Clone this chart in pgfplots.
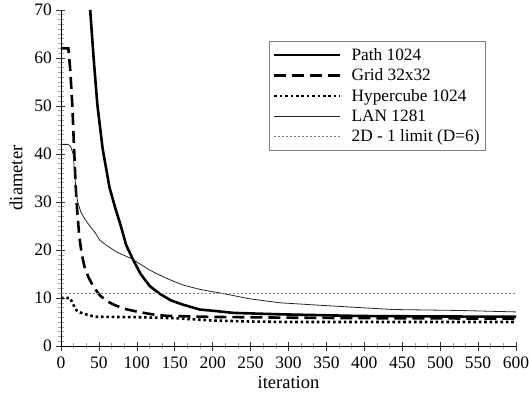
\documentclass[border=0pt]{standalone}
\usepackage{pgfplots}
\pgfplotsset{compat=1.18}
\usepackage{fontspec}
\setmainfont{Liberation Serif}
\begin{document}
\begin{tikzpicture}
\begin{axis}[
  scale only axis, width=455pt, height=336pt,
  xmin=0, xmax=600, ymin=0, ymax=70,
  axis x line*=bottom, axis y line*=left,
  axis line style={-, line width=0.6pt, black},
  xtick={0,50,...,600}, ytick={0,10,...,70},
  minor x tick num=2, minor y tick num=9,
  tick align=center,
  major tick length=9pt, minor tick length=6pt,
  major tick style={line width=0.6pt, black!80},
  minor tick style={line width=0.6pt, gray!70},
  /pgf/number format/assume math mode=true,
  ticklabel style={font=\fontsize{17.5}{20}\selectfont},
  xticklabel style={yshift=-3pt},
  yticklabel style={xshift=-1pt},
  label style={font=\fontsize{18.5}{21}\selectfont},
  xlabel={iteration}, ylabel={diameter},
  xlabel style={yshift=-1pt},
  ylabel style={yshift=5pt},
  legend cell align=left,
  legend image code/.code={\draw[#1] (0pt,0pt) -- (66pt,0pt);},
  legend style={at={(0.934,0.908)}, anchor=north east, draw=gray, line width=0.8pt,
    font=\fontsize{17.3}{20}\selectfont, inner xsep=4pt, inner ysep=5pt, row sep=3pt,
    column sep=8pt},
]
\addplot[black, line width=2.6pt] coordinates {
(38.5,70)(43,60)(48,50.2)(55,41)(64,33)(72,28.5)(78,25.5)(86,21)(95,18)(105,15)
(117,12.5)(130,10.9)(145,9.5)(161,8.6)(183,7.6)(203,7.3)(227,6.9)(289,6.6)(394,6.25)(500,6.15)(600,6.1)};
\addlegendentry{Path 1024}
\addplot[black, line width=2.6pt, dash pattern=on 12pt off 6pt] coordinates {
(0,62)(9.7,62)(12,58)(15,50)(17,42)(19.3,33.5)(21,29)(24,23)(27,19.5)(31,16.5)(36,14.4)
(43,12.3)(51,10.6)(60,9.4)(71,8.5)(85,7.7)(102,7.1)(120,6.6)(137,6.3)(170,6.15)(203,6.05)
(300,5.9)(400,5.8)(600,5.7)};
\addlegendentry{Grid 32x32}
\addplot[black, line width=2.6pt, dash pattern=on 2.6pt off 2.8pt] coordinates {
(0,10)(12,10)(15,9)(20,7.5)(25,7)(35,6.5)(45,6.1)(100,6)(150,5.8)(200,5.3)(250,5.1)(300,5.0)(600,5.0)};
\addlegendentry{Hypercube 1024}
\addplot[black!85, line width=0.8pt] coordinates {
(0,42)(9,42)(13,41.5)(16,40)(18,36)(20,32)(22,30)(26,28)(30,26.8)(38,25)(45,23.6)(51,22.1)
(58,21.2)(73,19.6)(93,18.2)(117,15.8)(139,14.1)(161,12.7)(183,11.8)(218,10.8)(250,9.8)
(289,9.0)(340,8.5)(394,8.0)(438,7.6)(526,7.4)(600,7.1)};
\addlegendentry{LAN 1281}
\addplot[gray, line width=0.8pt, dash pattern=on 2pt off 2pt] coordinates {(0,11)(600,11)};
\addlegendentry{2D - 1 limit (D=6)}
\end{axis}
\pgfresetboundingbox
\useasboundingbox (-61pt,-47pt) rectangle (468pt,346pt);
\end{tikzpicture}
\end{document}
